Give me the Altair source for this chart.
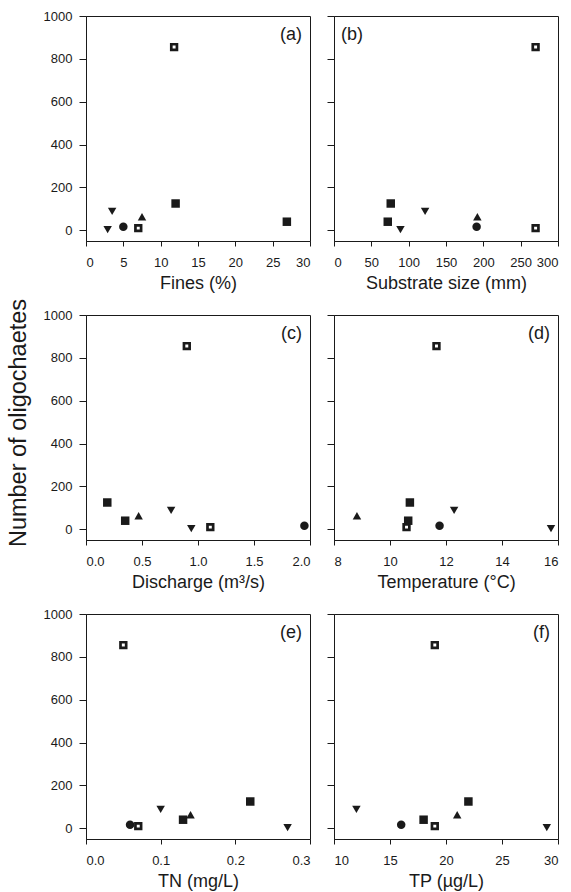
import altair as alt
import pandas as pd

# ---- data ----
sites = ["openA", "openB", "fillA", "fillB", "downA", "downB", "circ", "up"]
kinds = ["open", "open", "square", "square", "triangle-down", "triangle-down", "circle", "triangle-up"]
oligochaetes = [855, 10, 125, 40, 88, 3, 17, 63]
fines = [11.8, 7.0, 12.0, 26.9, 3.5, 2.9, 5.0, 7.5]
substrate = [270, 270, 76, 72, 122, 89, 191, 192]
discharge = [0.90, 1.11, 0.19, 0.35, 0.76, 0.94, 1.95, 0.47]
temperature = [11.66, 10.59, 10.71, 10.65, 12.29, 15.75, 11.77, 8.82]
tn = [0.05, 0.07, 0.22, 0.13, 0.10, 0.27, 0.059, 0.14]
tp = [19, 19, 22, 18, 12, 29, 16, 21]

y_ticks = [0, 200, 400, 600, 800, 1000]

df = pd.DataFrame({
    "site": sites, "kind": kinds, "count": oligochaetes,
    "fines": fines, "substrate": substrate, "discharge": discharge,
    "temperature": temperature, "tn": tn, "tp": tp,
})

FONT = "Liberation Sans"
INK = "#1a1a1a"
W, H = 224, 225

panels = [
    ("fines", "Fines (%)", [0, 30], [0, 5, 10, 15, 20, 25, 30], "d", "(a)", True),
    ("substrate", "Substrate size (mm)", [0, 300], [0, 50, 100, 150, 200, 250, 300], "d", "(b)", False),
    ("discharge", "Discharge (m³/s)", [0, 2], [0, 0.5, 1.0, 1.5, 2.0], ".1f", "(c)", True),
    ("temperature", "Temperature (°C)", [8, 16], [8, 10, 12, 14, 16], "d", "(d)", False),
    ("tn", "TN (mg/L)", [0, 0.3], [0, 0.1, 0.2, 0.3], ".1f", "(e)", True),
    ("tp", "TP (µg/L)", [10, 30], [10, 15, 20, 25, 30], "d", "(f)", False),
]


def panel(field, xtitle, domain, ticks, fmt, letter, left):
    x = alt.X(f"{field}:Q",
              scale=alt.Scale(domain=domain, nice=False, zero=False),
              axis=alt.Axis(title=xtitle, values=ticks, format=fmt,
                            tickSize=5, labelPadding=10, titlePadding=5))
    y = alt.Y("count:Q",
              scale=alt.Scale(domain=[-50, 1000], nice=False, zero=False),
              axis=alt.Axis(title=None, values=y_ticks, labels=left, format="d",
                            tickSize=7, labelPadding=7))
    base = alt.Chart(df).encode(x=x, y=y)
    filled = base.transform_filter(alt.datum.kind != "open").mark_point(
        filled=True, size=72, color=INK, opacity=1
    ).encode(
        shape=alt.Shape("kind:N",
                        scale=alt.Scale(domain=["circle", "square", "triangle-up", "triangle-down"],
                                        range=["circle", "square", "triangle-up", "triangle-down"]),
                        legend=None)
    )
    opened = base.transform_filter(alt.datum.kind == "open").mark_point(
        shape="square", filled=True, size=32, fill="white", stroke=INK,
        strokeWidth=2.7, opacity=1
    )
    lab_df = pd.DataFrame({"t": [letter]})
    if letter != "(b)":
        txt = alt.Chart(lab_df).mark_text(
            align="right", baseline="middle", font=FONT, fontSize=18, color=INK
        ).encode(text="t:N", x=alt.value(W - 8), y=alt.value(19))
    else:
        txt = alt.Chart(lab_df).mark_text(
            align="left", baseline="middle", font=FONT, fontSize=18, color=INK
        ).encode(text="t:N", x=alt.value(7), y=alt.value(19))
    return alt.layer(filled, opened, txt).properties(width=W, height=H)


charts = [panel(*p) for p in panels]

chart = alt.concat(
    *charts, columns=2, spacing=alt.RowColnumber(row=74, column=24), bounds="flush"
).properties(
    title=alt.TitleParams(text="Number of oligochaetes", orient="left", anchor="middle",
                          fontSize=23.5, font=FONT, fontWeight="normal", color=INK,
                          offset=12, dx=27),
    padding={"left": 7, "top": 9, "right": 0, "bottom": 0},
).configure_view(
    stroke=INK, strokeWidth=1
).configure_axis(
    grid=False, domainColor=INK, tickColor=INK, labelColor=INK, titleColor=INK,
    labelFont=FONT, titleFont=FONT, labelFontSize=13, titleFontSize=18,
    titleFontWeight="normal", domainWidth=1, tickWidth=1
)

chart.save("out.html", embed_options={"renderer": "svg", "actions": False})
